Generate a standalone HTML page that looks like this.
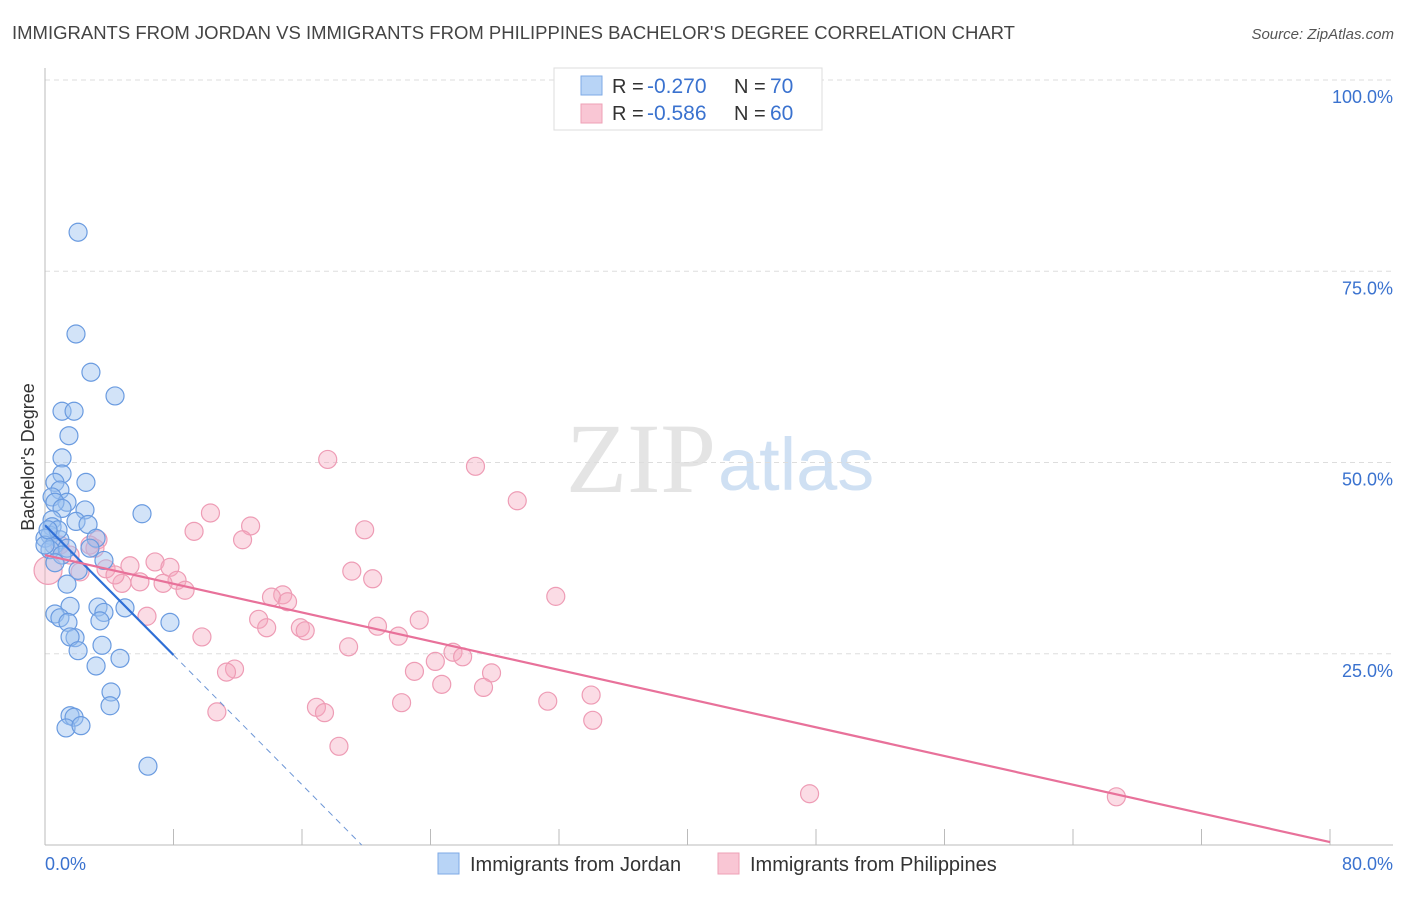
<!DOCTYPE html>
<html><head><meta charset="utf-8"><style>
body{margin:0;background:#fff;font-family:"Liberation Sans",sans-serif;}
</style></head><body>
<svg id="chart" width="1406" height="892" xmlns="http://www.w3.org/2000/svg">
<text x="12" y="39" font-size="18.5" fill="#444">IMMIGRANTS FROM JORDAN VS IMMIGRANTS FROM PHILIPPINES BACHELOR'S DEGREE CORRELATION CHART</text>
<text x="1394" y="39" font-size="15" fill="#555" font-style="italic" text-anchor="end">Source: ZipAtlas.com</text>
<text x="716" y="492" font-size="100" fill="#e4e4e4" text-anchor="end" font-family="Liberation Serif,serif">ZIP</text>
<text x="718" y="490" font-size="74" fill="#cfe0f3">atlas</text>
<g id="grid"></g>
<g id="axes"></g>
<g id="marks"></g>
<text transform="translate(34,457) rotate(-90)" font-size="18" fill="#333" text-anchor="middle">Bachelor's Degree</text>
<g>
<rect x="554" y="68" width="268" height="62" fill="#fff" stroke="#ddd"/>
<rect x="581" y="76" width="21" height="19" fill="#b8d4f6" stroke="#7eaae6"/>
<rect x="581" y="104" width="21" height="19" fill="#f9c6d4" stroke="#eea0b6"/>
<text x="612" y="93" font-size="20" fill="#333">R =</text>
<text x="647" y="93" font-size="21" fill="#3a72cf">-0.270</text>
<text x="734" y="93" font-size="20" fill="#333">N =</text>
<text x="770" y="93" font-size="21" fill="#3a72cf">70</text>
<text x="612" y="120" font-size="20" fill="#333">R =</text>
<text x="647" y="120" font-size="21" fill="#3a72cf">-0.586</text>
<text x="734" y="120" font-size="20" fill="#333">N =</text>
<text x="770" y="120" font-size="21" fill="#3a72cf">60</text>
</g>
<g>
<rect x="438" y="853" width="21" height="21" fill="#b8d4f6" stroke="#7eaae6"/>
<text x="470" y="871" font-size="20" fill="#333">Immigrants from Jordan</text>
<rect x="718" y="853" width="21" height="21" fill="#f9c6d4" stroke="#eea0b6"/>
<text x="750" y="871" font-size="20" fill="#333">Immigrants from Philippines</text>
</g>
</svg>
<script>
const jordanX=[2.06,1.93,2.86,4.36,1.06,1.81,1.49,1.06,1.06,2.55,0.62,0.93,0.44,1.37,0.62,2.49,1.06,6.04,0.44,1.93,2.68,0.44,0.31,3.18,0,0.93,0.56,1.37,2.8,0.31,1.06,3.67,0.62,2.06,1.37,3.3,4.98,1.56,3.67,0.62,0.93,1.43,3.42,7.78,1.87,1.56,3.55,2.06,4.67,3.18,4.11,4.05,1.56,1.81,1.31,2.24,6.41,0,0.81,0.19];
const jordanY=[80.1,66.8,61.8,58.7,56.7,56.7,53.5,50.6,48.5,47.4,47.4,46.4,45.5,44.8,44.8,43.8,44.0,43.3,42.5,42.3,41.9,41.6,40.5,40.1,40.1,39.9,39.2,38.8,38.8,38.6,37.9,37.2,36.9,35.9,34.1,31.1,31.0,31.2,30.4,30.2,29.7,29.1,29.3,29.1,27.1,27.2,26.1,25.4,24.4,23.4,20.0,18.2,16.9,16.7,15.3,15.6,10.3,39.2,41.2,41.2];
const philX=[26.8,17.6,29.4,10.3,12.8,19.9,9.28,12.3,3.3,6.85,5.29,7.78,3.8,2.18,19.1,20.4,8.22,5.91,7.35,4.79,8.72,31.8,14.8,14.1,15.1,6.35,13.3,23.3,13.8,15.9,16.2,20.7,22.0,9.77,18.9,25.4,26.0,24.3,27.8,23.0,11.8,11.3,24.7,27.3,34.0,31.3,22.2,16.9,10.7,17.4,34.1,18.3,47.6,66.7,0.93,0.19,2.8,1.56,3.11,4.36];
const philY=[49.5,50.4,45.0,43.4,41.7,41.2,41.0,39.9,39.9,37.0,36.5,36.3,36.1,35.7,35.8,34.8,34.6,34.4,34.2,34.2,33.3,32.5,32.7,32.4,31.8,29.9,29.5,29.4,28.4,28.4,28.0,28.6,27.3,27.2,25.9,25.2,24.6,24.0,22.5,22.7,23.0,22.6,21.0,20.6,19.6,18.8,18.6,18.0,17.4,17.3,16.3,12.9,6.7,6.3,39.2,35.9,39.2,37.9,38.8,35.3];
const jordanTrend=[41.8,-2.12];
const philTrend=[37.9,-0.469];
const yTicks=[25,50,75,100];
const yTickLabels=["25.0%","50.0%","75.0%","100.0%"];
const xTicks=[0,8,16,24,32,40,48,56,64,72,80];
const NS="http://www.w3.org/2000/svg";
const X=v=>45+v*(1285/80);
const Y=v=>845-v*(765/100);
function mk(tag,attrs,parent){const e=document.createElementNS(NS,tag);for(const k in attrs)e.setAttribute(k,attrs[k]);document.getElementById(parent).appendChild(e);return e;}
yTicks.forEach((t,i)=>{
  const g=mk('line',{x1:45,x2:1393,y1:Y(t),y2:Y(t),stroke:'#ddd','stroke-dasharray':'5,4'},'grid');
  
  
  const l=mk('text',{x:1393,y:Y(t)+23,'font-size':18,fill:'#3a72cf','text-anchor':'end'},'axes');
  l.textContent=yTickLabels[i];
  
  
});
const yl=mk('line',{x1:45,x2:45,y1:68,y2:845,stroke:'#bbb'},'axes');


const xl=mk('line',{x1:45,x2:1393,y1:845,y2:845,stroke:'#bbb'},'axes');


xTicks.forEach(t=>{
  const k=mk('line',{x1:X(t),x2:X(t),y1:829,y2:845,stroke:'#bbb'},'axes');
  
  
});
[[0,"0.0%","start",45],[80,"80.0%","end",1393]].forEach(a=>{
  const l=mk('text',{x:a[3],y:870,'font-size':18,fill:'#3a72cf','text-anchor':a[2]},'axes');
  l.textContent=a[1];
  
  
});
philX.forEach((x,i)=>{
  const c=mk('circle',{cx:X(x),cy:Y(philY[i]),r:i==55?14:9,fill:'#f4a7bd','fill-opacity':0.4,stroke:'#ee9cb5','stroke-width':1.2},'marks');
  
  
});
jordanX.forEach((x,i)=>{
  const c=mk('circle',{cx:X(x),cy:Y(jordanY[i]),r:9,fill:'#9cc2ef','fill-opacity':0.45,stroke:'#6a9be0','stroke-width':1.2},'marks');
  
  
});
const jEnd=8, jZero=jordanTrend[0]/-jordanTrend[1];
const jl=mk('line',{x1:X(0),y1:Y(jordanTrend[0]),x2:X(jEnd),y2:Y(jordanTrend[0]+jordanTrend[1]*jEnd),stroke:'#2f6fd6','stroke-width':2.2},'marks');


const jd=mk('line',{x1:X(jEnd),y1:Y(jordanTrend[0]+jordanTrend[1]*jEnd),x2:X(jZero),y2:Y(0),stroke:'#6d96d6','stroke-width':1,'stroke-dasharray':'6,5'},'marks');


const pl=mk('line',{x1:X(0),y1:Y(philTrend[0]),x2:X(80),y2:Y(philTrend[0]+philTrend[1]*80),stroke:'#e8719a','stroke-width':2.2},'marks');


</script>
</body></html>
